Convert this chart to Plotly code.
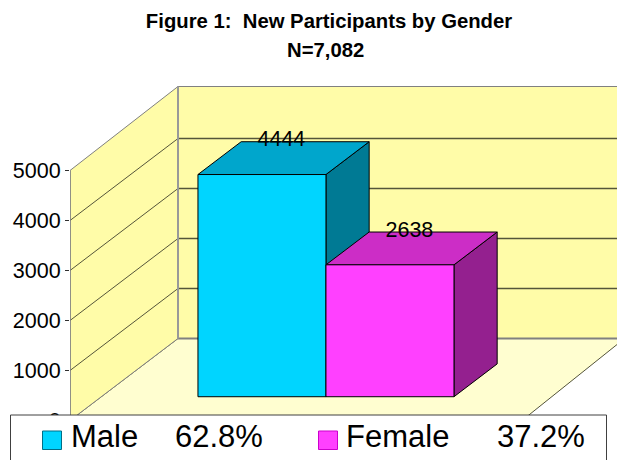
import plotly.graph_objects as go

# --- data ---
title_line1 = "Figure 1:\u00a0\u00a0New Participants by Gender"
title_line2 = "N=7,082"
genders = ["Male", "Female"]
participants = [4444, 2638]
shares = ["62.8%", "37.2%"]
tick_values = [0, 1000, 2000, 3000, 4000, 5000]

front_colors = ["#00D5FF", "#FF40FF"]
top_colors = ["#00A6CC", "#CC2DC6"]
side_colors = ["#007A94", "#94208F"]
key_lines = ["#006F87", "#CC00CC"]
WALL = "#FFFCA8"
FLOOR = "#FFFED0"
GRID = "#55553A"
EDGE = "#808080"

W, H = 617, 460
PLOT_L = 70
PX_PER_X = 452.0      # pixels for the whole category axis
PX_PER_V = 50.0 / 1000
ZERO_Y = 420.5

# oblique projection: depth 0..1 moves right and up
DEPTH_X = 108 / PX_PER_X
DEPTH_V = 82 / PX_PER_V
BAR_W = 0.2832
BAR_START = (1 - 2 * BAR_W) / 2 - 0.003
BAR_DEPTH_FRONT = 0.29
BAR_DEPTH = 0.40
LABEL_DX = 0.043
LABEL_DV = 670
FLOOR_RIGHT_BACK = 0.988
WALL_RIGHT = 1.3
WALL_TOP = 5040

def proj(x, v, d):
    return x + d * DEPTH_X, v + d * DEPTH_V

def path(pts):
    return "M " + " L ".join(f"{x:.4f} {y:.2f}" for x, y in pts) + " Z"

def px(p):
    return (p - PLOT_L) / (W - PLOT_L)

def py(p):
    return 1 - p / H

def seg(a, b, color, width):
    return dict(type="line", xref="x", yref="y", layer="below", x0=a[0], y0=a[1], x1=b[0], y1=b[1],
                line=dict(color=color, width=width))

fig = go.Figure()

shapes = []
top = tick_values[-1]
# walls and floor
shapes.append(dict(type="path", xref="x", yref="y", layer="below", fillcolor=FLOOR, line=dict(color=GRID, width=1),
                   path=path([proj(0, 0, 0), proj(0, 0, 1), proj(FLOOR_RIGHT_BACK, 0, 1), proj(1, 0, 0)])))
shapes.append(dict(type="path", xref="x", yref="y", layer="below", fillcolor=WALL, line=dict(color=EDGE, width=1),
                   path=path([proj(0, 0, 0), proj(0, 0, 1), proj(0, WALL_TOP, 1), proj(0, top, 0)])))
shapes.append(dict(type="path", xref="x", yref="y", layer="below", fillcolor=WALL, line=dict(color=EDGE, width=1),
                   path=path([proj(0, 0, 1), proj(WALL_RIGHT, 0, 1), proj(WALL_RIGHT, WALL_TOP, 1), proj(0, WALL_TOP, 1)])))
# gridlines
for t in tick_values[1:-1]:
    a, b, c = proj(0, t, 0), proj(0, t, 1), proj(WALL_RIGHT, t, 1)
    shapes.append(seg(a, b, GRID, 1))
    shapes.append(seg(b, c, GRID, 1.3))
# heavier edges: back of floor, corner of walls, axis
shapes.append(seg(proj(0, 0, 1), proj(WALL_RIGHT, 0, 1), EDGE, 2))
shapes.append(seg(proj(0, 0, 1), proj(0, WALL_TOP, 1), "#999999", 2))
shapes.append(seg(proj(0, 0, 0), proj(0, top, 0), EDGE, 1.5))

# bars, painted back to front: each series is one zorder step above the last
for i, (g, v) in enumerate(zip(genders, participants)):
    x0 = BAR_START + i * BAR_W
    x1 = x0 + BAR_W
    fx, fbase = proj(x0, 0, BAR_DEPTH_FRONT)
    z = 1 + 2 * i
    d0, d1 = BAR_DEPTH_FRONT, BAR_DEPTH_FRONT + BAR_DEPTH
    side = [proj(x1, 0, d0), proj(x1, 0, d1), proj(x1, v, d1), proj(x1, v, d0), proj(x1, 0, d0)]
    cover = [proj(x0, v, d0), proj(x0, v, d1), proj(x1, v, d1), proj(x1, v, d0), proj(x0, v, d0)]
    for poly, col in ((side, side_colors[i]), (cover, top_colors[i])):
        fig.add_trace(go.Scatter(x=[p[0] for p in poly], y=[p[1] for p in poly], mode="lines", fill="toself",
                                 fillcolor=col, line=dict(color="#000000", width=1), showlegend=False,
                                 hoverinfo="skip", zorder=z))
    fig.add_trace(go.Bar(x=[fx], y=[v], base=[fbase], width=[BAR_W], offset=0, name=g, showlegend=False,
                         marker=dict(color=front_colors[i], line=dict(color="#000000", width=1)), zorder=z + 1))

# value labels
lx, ly, lt = [], [], []
for i, v in enumerate(participants):
    cx = BAR_START + (i + 0.5) * BAR_W
    fx, fb = proj(cx, v, BAR_DEPTH_FRONT)
    lx.append(fx + LABEL_DX)
    ly.append(fb + LABEL_DV)
    lt.append(str(v))
fig.add_trace(go.Scatter(x=lx, y=ly, text=lt, mode="text", textposition="middle center", showlegend=False,
                         textfont=dict(family="Liberation Sans", size=21.5, color="#000000"), hoverinfo="skip", zorder=9))

# legend box
shapes.append(dict(type="rect", xref="paper", yref="paper", layer="above", x0=px(10.5), x1=px(606.5), y0=py(415), y1=py(470),
                   fillcolor="#FFFFFF", line=dict(color="#404040", width=1)))
key_x = [42.5, 318.5]
name_x = [71, 346]
share_x = [263, 585]
annotations = []
for i in range(2):
    shapes.append(dict(type="rect", xref="paper", yref="paper", layer="above", x0=px(key_x[i]), x1=px(key_x[i] + 19),
                       y0=py(431), y1=py(449.5), fillcolor=front_colors[i], line=dict(color=key_lines[i], width=1)))
    annotations.append(dict(xref="paper", yref="paper", x=px(name_x[i]), y=py(436), text=genders[i], showarrow=False,
                            xanchor="left", yanchor="middle", xshift=-2, font=dict(family="Liberation Sans", size=31, color="#000000")))
    annotations.append(dict(xref="paper", yref="paper", x=px(share_x[i]), y=py(436), text=shares[i], showarrow=False,
                            xanchor="right", yanchor="middle", xshift=2, font=dict(family="Liberation Sans", size=31, color="#000000")))

annotations.append(dict(xref="paper", yref="paper", x=px(325), y=py(50.5), text=f"<b>{title_line2}</b>", showarrow=False,
                        xanchor="center", yanchor="middle", font=dict(family="Liberation Sans", size=20.3, color="#000000")))

fig.update_layout(
    width=W, height=H,
    margin=dict(l=PLOT_L, r=0, t=0, b=0, pad=0),
    paper_bgcolor="#FFFFFF", plot_bgcolor="#FFFFFF",
    barmode="overlay",
    showlegend=False,
    title=dict(text=f"<b>{title_line1}</b>", x=329 / W, xref="container", xanchor="center",
               y=1 - 21 / H, yanchor="middle", yref="container",
               font=dict(family="Liberation Sans", size=20.3, color="#000000")),
    xaxis=dict(visible=False, range=[0, (W - PLOT_L) / PX_PER_X], domain=[0, 1], fixedrange=True),
    yaxis=dict(range=[-(H - ZERO_Y) / PX_PER_V, ZERO_Y / PX_PER_V], domain=[0, 1], tickvals=tick_values,
               ticktext=[str(t) for t in tick_values], ticks="outside", ticklen=4, tickwidth=1, tickcolor="#303030",
               showgrid=False, zeroline=False, showline=False, ticklabelstandoff=0,
               tickfont=dict(family="Liberation Sans", size=21.5, color="#000000"), fixedrange=True),
    shapes=shapes, annotations=annotations,
)
fig.write_html("out.html", config=dict(displayModeBar=False),
               post_script="document.body.style.margin='0';document.body.style.overflow='hidden';")
